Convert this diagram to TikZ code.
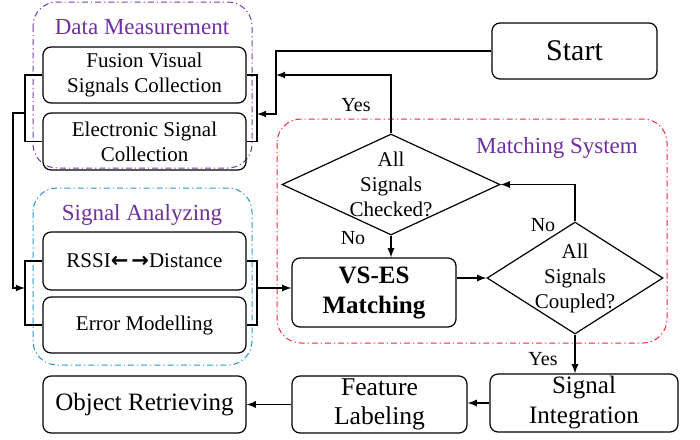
\documentclass[tikz,border=0pt]{standalone}
\usepackage{fontspec}
\setmainfont{Liberation Serif}
\newfontfamily\arrowfont{DejaVu Sans}
\usetikzlibrary{shapes.geometric}

\definecolor{titlepurple}{RGB}{112,48,160}
\definecolor{grppurple}{RGB}{120,60,170}
\definecolor{grpblue}{RGB}{40,150,215}
\definecolor{grpred}{RGB}{250,40,60}

\tikzset{
  box/.style={draw, rounded corners=4pt, line width=0.6pt, align=center, inner sep=0pt,
    minimum width=101.5pt, minimum height=28pt, font=\fontsize{10.5}{12.5}\selectfont},
  dec/.style={draw, diamond, line width=0.6pt, inner sep=0pt},
  grp/.style={rounded corners=12pt, line width=0.5pt,
    dash pattern=on 3pt off 1.5pt on 0.6pt off 1.5pt},
  arr/.style={line width=0.6pt, -{latex}},
  wire/.style={line width=0.6pt},
  ttl/.style={text=titlepurple, font=\fontsize{11.5}{13}\selectfont},
  lbl/.style={font=\fontsize{10}{12}\selectfont}
}

\begin{document}
\begin{tikzpicture}[x=0.5pt, y=-0.5pt]
\useasboundingbox (0,0) rectangle (700,439);

% groups
\draw [grp, grppurple] (33,2) rectangle (252,168) ;
\draw [grp, grpblue] (33,188) rectangle (252,365) ;
\draw [grp, grpred] (277,119) rectangle (667,343) ;
\node [ttl] (dmtitle) at (142,27) {Data Measurement} ;
\node [ttl] (satitle) at (142,215) {Signal Analyzing} ;
\node [ttl] (mstitle) at (557,148) {Matching System} ;

% boxes
\node [box] (fusion) at (144.5,75) {Fusion Visual\\Signals Collection} ;
\node [box, minimum height=28.5pt] (elec) at (144.5,141.5) {Electronic Signal\\Collection} ;
\node [box, minimum height=29pt] (rssi) at (144.5,261) {RSSI{\arrowfont\bfseries\fontsize{10.5}{12}\selectfont ←\kern1.5pt→}Distance} ;
\node [box] (err) at (144.5,325) {Error Modelling} ;
\node [box, minimum width=82.5pt, font=\fontsize{15}{17}\selectfont] (start) at (574.5,51) {Start} ;
\node [box, minimum width=82pt, minimum height=34.5pt, font=\fontsize{12.5}{15}\selectfont\bfseries] (vses) at (374,292.5) {VS-ES\\Matching} ;
\node [box, minimum width=94pt, minimum height=29pt, font=\fontsize{12.5}{15}\selectfont] (sint) at (584,403) {Signal\\Integration} ;
\node [box, minimum width=87.5pt, minimum height=28.5pt, font=\fontsize{12.8}{14.5}\selectfont] (feat) at (379.5,404.5) {Feature\\Labeling} ;
\node [box, minimum height=28.5pt, font=\fontsize{12.5}{15}\selectfont] (obj) at (144.5,404.5) {Object Retrieving} ;

% decisions
\node [dec, minimum width=109pt, minimum height=50.5pt,
  label={[align=center, font=\fontsize{10.5}{12.5}\selectfont]center:All\\Signals\\Checked?}] (chk) at (391,184.5) {} ;
\node [dec, minimum width=88pt, minimum height=56pt,
  label={[align=center, font=\fontsize{10.5}{12.5}\selectfont]center:All\\Signals\\Coupled?}] (cpl) at (575,278) {} ;

% brackets
\coordinate (dmL) at (25,113) ;
\coordinate (dmR) at (257,114) ;
\coordinate (saL) at (25,288) ;
\coordinate (saR) at (257,288) ;
\coordinate (jn) at (276,75) ;
\draw [wire] (fusion.west) -| (dmL) |- (elec.west) ;
\draw [wire] (fusion.east) -| (dmR) |- (elec.east) ;
\draw [wire] (rssi.west) -| (saL) |- (err.west) ;
\draw [wire] (rssi.east) -| (saR) |- (err.east) ;

% connectors
\draw [arr] (start.west) -| (jn) |- (dmR) ;
\draw [arr] (chk.north) |- (jn) ;
\node [lbl] (yes1) at (356,105) {Yes} ;
\draw [arr] (dmL) -- (13,113) |- (saL) ;
\draw [arr] (saR) -- (saR -| vses.west) ;
\draw [arr] (chk.south) -- (chk.south |- vses.north) ;
\node [lbl] (no1) at (353,238) {No} ;
\draw [arr] (vses.east |- cpl.west) -- (cpl.west) ;
\draw [arr] (cpl.north) |- (chk.east) ;
\node [lbl] (no2) at (543,225) {No} ;
\draw [arr] (cpl.south) -- (cpl.south |- sint.north) ;
\node [lbl] (yes2) at (543,359) {Yes} ;
\draw [arr] (sint.west) -- (sint.west -| feat.east) ;
\draw [arr] (feat.west) -- (feat.west -| obj.east) ;

\end{tikzpicture}
\end{document}
